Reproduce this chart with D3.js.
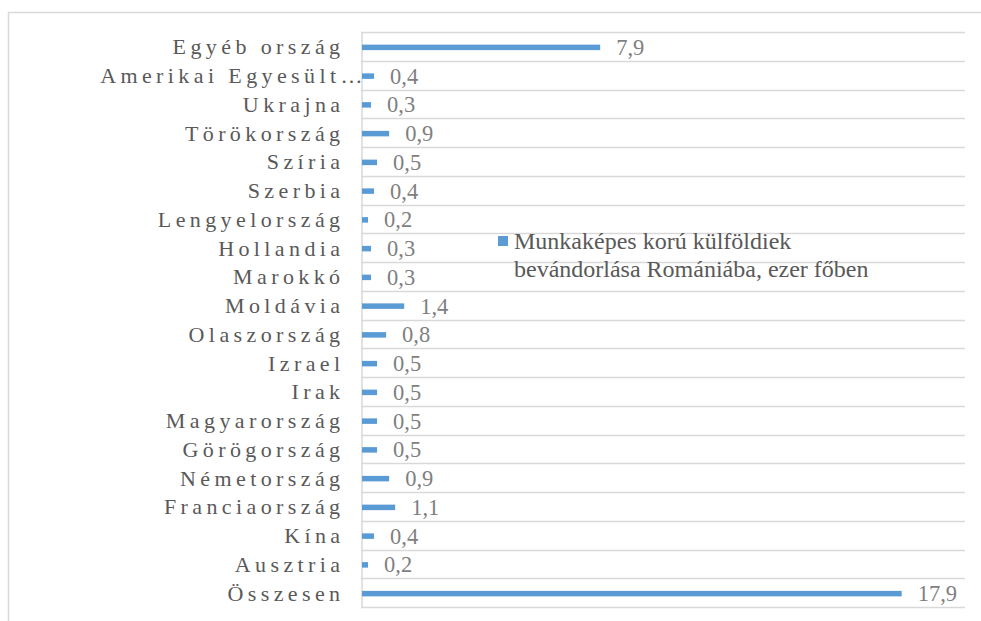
<!DOCTYPE html>
<html>
<head>
<meta charset="utf-8">
<script src="https://cdn.jsdelivr.net/npm/d3@7"></script>
<style>
  html, body { margin: 0; padding: 0; background: #fff; }
  svg { display: block; }
</style>
</head>
<body>
<svg id="chart" width="981" height="621"></svg>
<script>
// Immigration of working-age foreigners to Romania, thousand persons
const categories = [
  "Egyéb ország", "Amerikai Egyesült…", "Ukrajna", "Törökország", "Szíria",
  "Szerbia", "Lengyelország", "Hollandia", "Marokkó", "Moldávia",
  "Olaszország", "Izrael", "Irak", "Magyarország", "Görögország",
  "Németország", "Franciaország", "Kína", "Ausztria", "Összesen"
];
const values = [7.9, 0.4, 0.3, 0.9, 0.5, 0.4, 0.2, 0.3, 0.3, 1.4,
                0.8, 0.5, 0.5, 0.5, 0.5, 0.9, 1.1, 0.4, 0.2, 17.9];
const seriesName = ["Munkaképes korú külföldiek", "bevándorlása Romániába, ezer főben"];
const xDomain = [0, 20];

const svg = d3.select("#chart");
const W = 981, H = 621;
const plot = { left: 361, right: 965, top: 32, bottom: 607 };

const grid = "#d9d9d9", barColor = "#5b9bd5";
const serif = "Liberation Serif";

// outer chart frame
svg.append("rect")
  .attr("x", 8.5).attr("y", 12.5)
  .attr("width", W + 10).attr("height", H + 10)
  .attr("fill", "none").attr("stroke", grid).attr("stroke-width", 1.5);

const x = d3.scaleLinear().domain(xDomain).range([plot.left + 1, plot.right]);
const y = d3.scaleBand().domain(categories).range([plot.top, plot.bottom]).padding(0);

// horizontal gridlines at category boundaries
const bounds = categories.map(c => y(c)).concat([plot.bottom]);
svg.append("g").selectAll("line").data(bounds).join("line")
  .attr("x1", plot.left).attr("x2", plot.right)
  .attr("y1", d => Math.round(d) + 0.5).attr("y2", d => Math.round(d) + 0.5)
  .attr("stroke", grid).attr("stroke-width", 1.5);

// category axis
const yAxis = d3.axisLeft(y).tickSize(0).tickPadding(17);
const ag = svg.append("g").attr("transform", `translate(${plot.left + 0.5},0)`).call(yAxis)
  .attr("font-family", serif).attr("font-size", 22);
ag.select(".domain").attr("stroke", grid).attr("stroke-width", 1.5);
ag.selectAll(".tick text")
  .attr("font-family", serif).attr("font-size", 22)
  .attr("letter-spacing", 4.4)
  .attr("fill", "#595959")
  .attr("dy", "0.36em")
  .each(function(d) {
    // a truncated name keeps its words aligned; the ellipsis hangs toward the axis
    if (d.endsWith("…")) {
      const n = d.length;
      const w = this.getSubStringLength(n - 1, 1);
      d3.select(this).attr("dx", w - 4);
    }
  });

// bars
const barH = 5.5;
svg.append("g").selectAll("rect").data(values).join("rect")
  .attr("x", x(0))
  .attr("y", (d, i) => y(categories[i]) + y.bandwidth() / 2 - barH / 2 + 1)
  .attr("width", d => x(d) - x(0))
  .attr("height", barH)
  .attr("fill", barColor);

// value labels
const fmt = v => d3.format(".1f")(v).replace(".", ",");
svg.append("g").selectAll("text").data(values).join("text")
  .attr("x", d => x(d) + 16)
  .attr("y", (d, i) => y(categories[i]) + y.bandwidth() / 2)
  .attr("dy", "0.38em")
  .attr("font-family", serif).attr("font-size", 22.5)
  .attr("fill", "#7f7f7f")
  .text(fmt);

// legend
const lg = svg.append("g").attr("transform", "translate(498,236)");
lg.append("rect").attr("width", 10).attr("height", 10).attr("fill", barColor);
lg.append("text")
  .attr("font-family", serif).attr("font-size", 24).attr("fill", "#595959")
  .selectAll("tspan").data(seriesName).join("tspan")
  .attr("x", 16).attr("y", (d, i) => 13 + i * 28)
  .text(d => d);
</script>
</body>
</html>
